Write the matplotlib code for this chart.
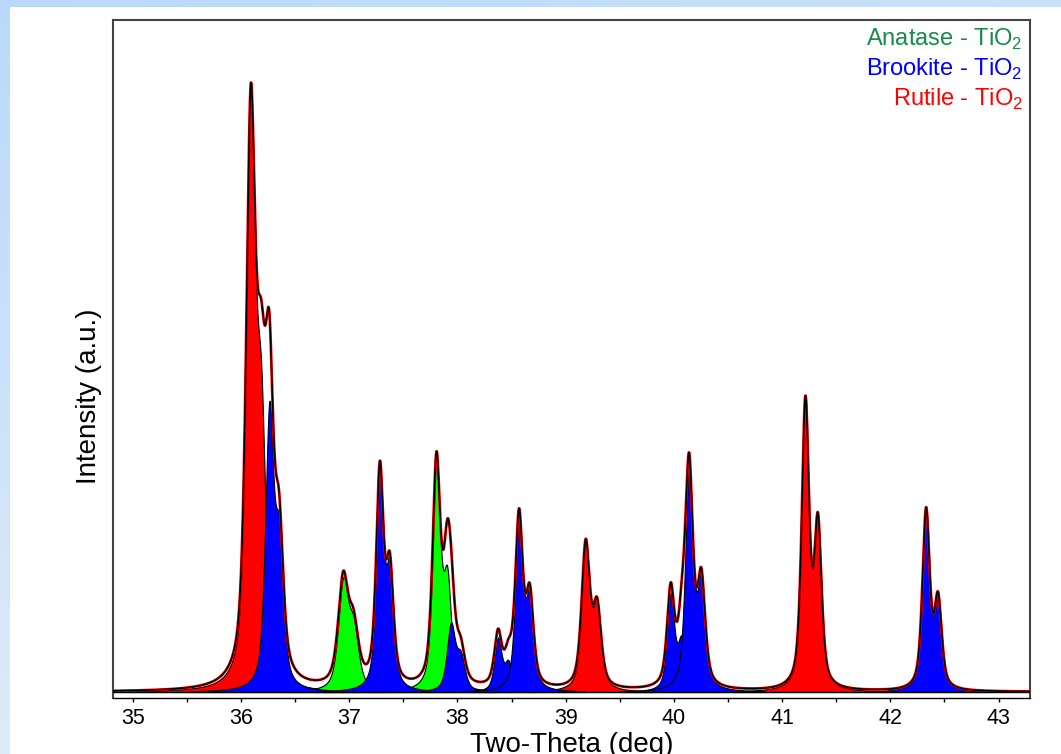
import numpy as np
import matplotlib
matplotlib.use("Agg")
import matplotlib.pyplot as plt
from matplotlib.ticker import MultipleLocator, FuncFormatter

plt.rcParams['font.family'] = ['Liberation Sans', 'DejaVu Sans']
plt.rcParams['mathtext.fontset'] = 'custom'
plt.rcParams['mathtext.rm'] = 'Liberation Sans'

# reflections: K-alpha1 / K-alpha2 position (deg), height (a.u.), fwhm (deg)
rutile_pos1 = [36.090, 39.185, 41.215]
rutile_int1 = [555, 143, 285]
rutile_pos2 = [36.185, 39.290, 41.330]
rutile_int2 = [241, 78, 160]
rutile_fwhm = [0.100, 0.090, 0.080]

anatase_pos1 = [36.944, 37.806]
anatase_int1 = [104, 222]
anatase_pos2 = [37.040, 37.905]
anatase_int2 = [55, 103]
anatase_fwhm = [0.110, 0.085]

brookite_pos1 = [36.262, 37.283, 37.940, 38.375, 38.569, 39.970, 40.140, 42.330]
brookite_int1 = [271, 213, 65, 52, 169, 95, 218, 178]
brookite_pos2 = [36.352, 37.375, 38.030, 38.470, 38.668, 40.070, 40.253, 42.440]
brookite_int2 = [136, 112, 32, 27, 89, 48, 104, 87]
brookite_fwhm = [0.090, 0.080, 0.090, 0.080, 0.082, 0.080, 0.085, 0.080]

phases = [
    ("Anatase", "#00ff00", "#168c46", anatase_pos1, anatase_int1, anatase_pos2, anatase_int2, anatase_fwhm),
    ("Brookite", "#0000ff", "#0000ff", brookite_pos1, brookite_int1, brookite_pos2, brookite_int2, brookite_fwhm),
    ("Rutile", "#ff0000", "#ff0000", rutile_pos1, rutile_int1, rutile_pos2, rutile_int2, rutile_fwhm),
]
draw_order = [2, 0, 1]  # rutile under anatase under brookite

two_theta = np.linspace(34.82, 43.29, 5000)


def pvoigt(x, x0, h, fwhm, eta=0.6):
    d = (x - x0) / fwhm
    lor = 1.0 / (1.0 + 4.0 * d ** 2)
    gau = np.exp(-4.0 * np.log(2) * d ** 2)
    return h * (eta * lor + (1 - eta) * gau)


fig = plt.figure(figsize=(10.61, 7.54), dpi=100)

# light blue frame behind the white panel
bg = fig.add_axes([0, 0, 1, 1])
bg.set_axis_off()
tl, tr = np.array([0.73, 0.85, 0.98]), np.array([0.79, 0.88, 0.98])
bl, br = np.array([0.87, 0.92, 0.98]), np.array([0.90, 0.94, 0.99])
u = np.linspace(0, 1, 64)[None, :, None]
v = np.linspace(0, 1, 64)[:, None, None]
grad = (1 - v) * ((1 - u) * tl + u * tr) + v * ((1 - u) * bl + u * br)
bg.imshow(grad, extent=[0, 1, 0, 1], aspect='auto', origin='upper')
bg.add_patch(plt.Rectangle((10 / 1061, 0), 1, (754 - 7) / 754, color='white', lw=0))
bg.set_xlim(0, 1)
bg.set_ylim(0, 1)

ax = fig.add_axes([113.3 / 1061, 56 / 754, 916.7 / 1061, 678 / 754])

total = np.zeros_like(two_theta)
for i in draw_order:
    name, fc, tc, p1, h1, p2, h2, w = phases[i]
    for a, ha, b, hb, fw in zip(p1, h1, p2, h2, w):
        prof = pvoigt(two_theta, a, ha, fw) + pvoigt(two_theta, b, hb, fw)
        total += prof
        ax.fill_between(two_theta, 0, prof, where=prof > 0.8, facecolor=fc,
                        edgecolor='black', linewidth=0.8, zorder=2)

ax.plot(two_theta, total, color='#ff0000', lw=2.0, zorder=3)
ax.plot(two_theta, total, color='black', lw=1.1, zorder=4)
ax.axhline(0, color='black', lw=1.0, zorder=4)

ax.set_xlim(34.82, 43.29)
ax.set_ylim(-6, 672)
ax.set_yticks([])
ax.xaxis.set_major_locator(MultipleLocator(0.5))
ax.xaxis.set_major_formatter(FuncFormatter(lambda val, pos: f"{val:.0f}" if abs(val - round(val)) < 1e-6 else ""))
ax.tick_params(axis='x', direction='out', length=3, width=1, pad=4, labelsize=15.5, colors='black')
for side in ['left', 'top', 'right']:
    ax.spines[side].set_color('#444444')
    ax.spines[side].set_linewidth(1.5)
ax.spines['bottom'].set_color('black')
ax.spines['bottom'].set_linewidth(1.0)

# legend as coloured text, right aligned
for k, (name, fc, tc, *_rest) in enumerate(phases):
    ax.text(0.992, 0.971 - k * 0.0443, name + r" - TiO$_2$", color=tc, fontsize=17,
            ha='right', va='center', transform=ax.transAxes)

fig.text(571.5 / 1061, 2 / 754, "Two-Theta (deg)", fontsize=20, ha='center', va='baseline')
fig.text(95.5 / 1061, 358 / 754, "Intensity (a.u.)", fontsize=20, rotation=90,
         rotation_mode='anchor', ha='center', va='baseline')

fig.savefig("out.png", dpi=100)
